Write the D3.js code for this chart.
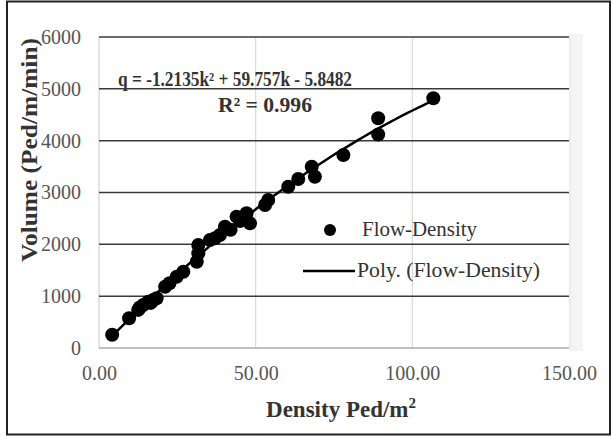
<!DOCTYPE html>
<html><head><meta charset="utf-8">
<script src="https://cdn.jsdelivr.net/npm/d3@7"></script>
<style>body{margin:0;background:#fff}svg{display:block}</style>
</head><body>
<svg id="c" width="612" height="437"></svg>
<script>
// Data: density k (Ped/m²), volume q (Ped/m/min)
const density = [4.2, 9.6, 12.5, 13.0, 14.1, 15.7, 16.5, 17.3, 18.4, 21.1, 22.5, 24.8, 26.9, 31.2, 31.7, 31.7, 35.4, 37.0, 38.6, 40.2, 42.0, 43.9, 45.0, 47.1, 48.2, 53.0, 54.0, 60.4, 63.6, 67.9, 68.9, 78.0, 89.1, 89.1, 106.7];
const volume  = [255, 575, 735, 780, 830, 893, 870, 926, 959, 1183, 1250, 1376, 1472, 1665, 1827, 1987, 2084, 2116, 2180, 2341, 2280, 2534, 2450, 2599, 2405, 2759, 2855, 3112, 3260, 3498, 3305, 3724, 4432, 4120, 4818];
const xTicks = [0, 50, 100, 150];
const yTicks = [0, 1000, 2000, 3000, 4000, 5000, 6000];
const seriesName = "Flow-Density";
const trendName = "Poly. (Flow-Density)";
const equation = "q = -1.2135k² + 59.757k - 5.8482";
const rSquared = "R² = 0.996";

const svg = d3.select("#c");
const L = 99, R = 569, T = 37, B = 348;
const x = d3.scaleLinear().domain([0, 150]).range([L, R]);
const y = d3.scaleLinear().domain([0, 6000]).range([B, T]);
const serif = "'Liberation Serif','Times New Roman',serif";

// outer border
svg.append("rect").attr("x", 7).attr("y", 1.5).attr("width", 603).attr("height", 433)
  .attr("fill", "#fff").attr("stroke", "#222").attr("stroke-width", 2);

// plot area faint frame
svg.append("rect").attr("x", R).attr("y", T - 3).attr("width", 14).attr("height", B - T + 6).attr("fill", "#f4f4f4");
svg.append("line").attr("x1", R + 1).attr("x2", R + 1).attr("y1", T).attr("y2", B).attr("stroke", "#e2e2e2");

// vertical gridlines
svg.append("g").selectAll("line").data(xTicks.filter(d => d > 0 && d < 150)).join("line")
  .attr("x1", d => x(d)).attr("x2", d => x(d)).attr("y1", T).attr("y2", B)
  .attr("stroke", "#d9d9d9").attr("stroke-width", 1.2);
// left plot edge
svg.append("line").attr("x1", L).attr("x2", L).attr("y1", T).attr("y2", B).attr("stroke", "#d0d0d0").attr("stroke-width", 1.2);

// horizontal gridlines
svg.append("g").selectAll("line").data(yTicks.filter(d => d > 0)).join("line")
  .attr("x1", L).attr("x2", R).attr("y1", d => y(d)).attr("y2", d => y(d))
  .attr("stroke", "#3a3a3a").attr("stroke-width", 1.5);
// x axis line
svg.append("line").attr("x1", L).attr("x2", R).attr("y1", B).attr("y2", B).attr("stroke", "#aaa").attr("stroke-width", 1.5);

// axes labels via d3 axes
const yAxis = svg.append("g").attr("transform", `translate(${L},0)`)
  .call(d3.axisLeft(y).tickValues(yTicks).tickSize(0).tickPadding(18).tickFormat(d3.format("d")));
yAxis.select(".domain").remove();
yAxis.selectAll("text").attr("font-family", serif).attr("font-size", 20).attr("fill", "#555");

const xAxis = svg.append("g").attr("transform", `translate(0,${B})`)
  .call(d3.axisBottom(x).tickValues(xTicks).tickSize(0).tickPadding(18).tickFormat(d3.format(".2f")));
xAxis.select(".domain").remove();
xAxis.selectAll("text").attr("font-family", serif).attr("font-size", 20).attr("fill", "#555");

// quadratic least squares trendline from the data
function polyfit(xs, ys) {
  let s = [0,0,0,0,0], t = [0,0,0];
  xs.forEach((xv, i) => {
    let p = 1;
    for (let k = 0; k < 5; k++) { s[k] += p; if (k < 3) t[k] += p * ys[i]; p *= xv; }
  });
  const A = [[s[0],s[1],s[2],t[0]],[s[1],s[2],s[3],t[1]],[s[2],s[3],s[4],t[2]]];
  for (let i = 0; i < 3; i++) {
    for (let j = i + 1; j < 3; j++) {
      const f = A[j][i] / A[i][i];
      for (let k = i; k < 4; k++) A[j][k] -= f * A[i][k];
    }
  }
  const c = [0,0,0];
  for (let i = 2; i >= 0; i--) {
    let v = A[i][3];
    for (let k = i + 1; k < 3; k++) v -= A[i][k] * c[k];
    c[i] = v / A[i][i];
  }
  return c;
}
const coef = polyfit(density, volume);
const kMin = d3.min(density), kMax = d3.max(density);
const trend = d3.range(0, 61).map(i => {
  const k = kMin + (kMax - kMin) * i / 60;
  return [k, coef[0] + coef[1] * k + coef[2] * k * k];
});

// points
svg.append("g").selectAll("circle").data(density.map((d, i) => [d, volume[i]])).join("circle")
  .attr("cx", d => x(d[0])).attr("cy", d => y(d[1])).attr("r", 7).attr("fill", "#000");

svg.append("path").datum(trend)
  .attr("d", d3.line().x(d => x(d[0])).y(d => y(d[1])))
  .attr("fill", "none").attr("stroke", "#000").attr("stroke-width", 2.5);

// equation
svg.append("text").attr("x", 118).attr("y", 86).attr("font-family", serif).attr("font-weight", "bold")
  .attr("font-size", 20).attr("fill", "#333")
  .attr("textLength", 234).attr("lengthAdjust", "spacingAndGlyphs").text(equation);
svg.append("text").attr("x", 218).attr("y", 112).attr("font-family", serif).attr("font-weight", "bold")
  .attr("font-size", 21).attr("fill", "#333")
  .attr("textLength", 94).attr("lengthAdjust", "spacingAndGlyphs").text(rSquared);

// legend
svg.append("circle").attr("cx", 330).attr("cy", 230).attr("r", 6).attr("fill", "#000");
svg.append("text").attr("x", 362).attr("y", 236).attr("font-family", serif).attr("font-size", 21)
  .attr("fill", "#333").attr("textLength", 115).attr("lengthAdjust", "spacingAndGlyphs").text(seriesName);
svg.append("line").attr("x1", 303).attr("x2", 355).attr("y1", 271).attr("y2", 271)
  .attr("stroke", "#000").attr("stroke-width", 2.5);
svg.append("text").attr("x", 357).attr("y", 277).attr("font-family", serif).attr("font-size", 21)
  .attr("fill", "#333").attr("textLength", 183).attr("lengthAdjust", "spacingAndGlyphs").text(trendName);

// axis titles
const xt = svg.append("text").attr("x", 341).attr("y", 417).attr("text-anchor", "middle")
  .attr("font-family", serif).attr("font-weight", "bold").attr("font-size", 23).attr("fill", "#333");
xt.append("tspan").text("Density Ped/m");
xt.append("tspan").attr("dy", -9).attr("font-size", 15).text("2");

svg.append("text").attr("transform", "translate(37,150) rotate(-90)").attr("text-anchor", "middle")
  .attr("font-family", serif).attr("font-weight", "bold").attr("font-size", 24).attr("fill", "#333")
  .attr("textLength", 224).attr("lengthAdjust", "spacingAndGlyphs")
  .text("Volume (Ped/m/min)");
</script>
</body></html>
